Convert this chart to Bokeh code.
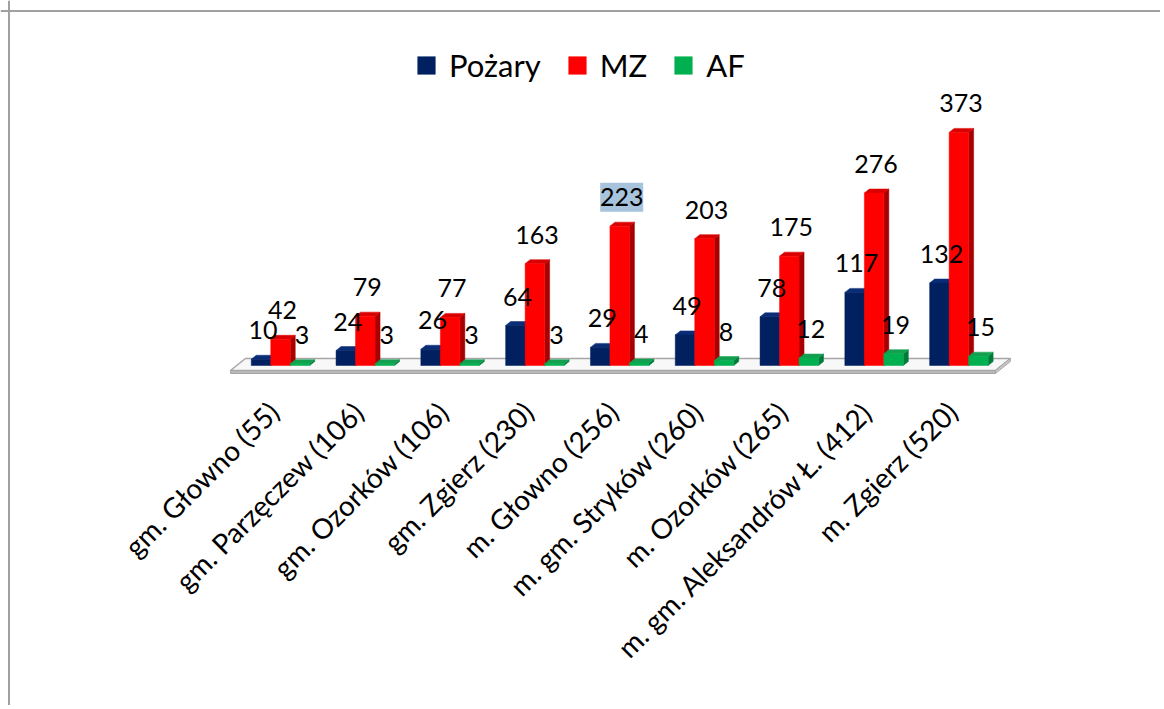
import math
from bokeh.plotting import figure
from bokeh.models import Range1d, Span, Legend, LegendItem
from bokeh.core.properties import value
from bokeh.embed import file_html
from bokeh.resources import INLINE

# ---------------- data ----------------
categories = ["gm. Głowno (55)", "gm. Parzęczew (106)", "gm. Ozorków (106)",
              "gm. Zgierz (230)", "m. Głowno (256)", "m. gm. Stryków (260)",
              "m. Ozorków (265)", "m. gm. Aleksandrów Ł. (412)", "m. Zgierz (520)"]
pozary = [10, 24, 26, 64, 29, 49, 78, 117, 132]
mz = [42, 79, 77, 163, 223, 203, 175, 276, 373]
af = [3, 3, 3, 3, 4, 8, 12, 19, 15]
series_names = ["Pożary", "MZ", "AF"]
highlight = ("m. Głowno (256)", "MZ")

# ---------------- styles ----------------
front_colors = ["#002060", "#FF0000", "#00B050"]
side_colors = ["#00123a", "#a80000", "#007a3a"]
top_colors = ["#0b2d78", "#d80000", "#12a050"]
FONT = "Lato"
TXT = "#000000"

W, H = 1160, 705
PX_X = 84.8      # pixels per category
PX_Y = 0.625     # pixels per value unit
X0 = 280         # pixel of first category centre (from left)
Y0 = 365         # pixel of zero (from top)

p = figure(width=W, height=H,
           x_range=Range1d(-X0 / PX_X, (W - X0) / PX_X),
           y_range=Range1d(-(H - Y0) / PX_Y, Y0 / PX_Y),
           output_backend="svg", toolbar_location=None,
           x_axis_location=None, y_axis_location=None, min_border=0)
p.grid.visible = False
p.outline_line_color = None
p.background_fill_color = "white"
p.border_fill_color = "white"

n = len(categories)
bw = 19.5 / PX_X
dx = 5 / PX_X
dy = 4 / PX_Y

# floor
fl, fr = -0.59, (n - 1) + 0.43
fdx, fdy = 15 / PX_X, 12 / PX_Y
fy = -5 / PX_Y
band = 3 / PX_Y
p.patch([fl, fr, fr + fdx, fl + fdx], [fy, fy, fy + fdy, fy + fdy],
        fill_color="#f8f8f8", line_color="#a6a6a6", line_width=1.5)
p.patch([fl, fr, fr, fl], [fy, fy, fy - band, fy - band],
        fill_color="#b8b8b8", line_color="#a6a6a6", line_width=1)
p.patch([fr, fr + fdx, fr + fdx, fr], [fy - band, fy + fdy - band, fy + fdy, fy],
        fill_color="#c8c8c8", line_color="#a6a6a6", line_width=1)

offsets = [-bw, 0.0, bw]
all_vals = [pozary, mz, af]
front_renderers = []
for k, vals in enumerate(all_vals):
    xs = [i + offsets[k] for i in range(n)]
    sx, sy, tx, ty = [], [], [], []
    for x, v in zip(xs, vals):
        l, r = x - bw / 2, x + bw / 2
        sx.append([r, r + dx, r + dx, r]); sy.append([0, dy, v + dy, v])
        tx.append([l, l + dx, r + dx, r]); ty.append([v, v + dy, v + dy, v])
    p.patches(sx, sy, fill_color=side_colors[k], line_color=side_colors[k], line_width=0.5)
    p.patches(tx, ty, fill_color=top_colors[k], line_color=top_colors[k], line_width=0.5)
    fr_r = p.vbar(x=xs, width=bw, top=vals, bottom=0,
                  fill_color=front_colors[k], line_color=front_colors[k], line_width=0.5)
    front_renderers.append(fr_r)

# highlighted label background
hi_i = categories.index(highlight[0])
hi_k = series_names.index(highlight[1])
p.rect(x=[hi_i + offsets[hi_k] + 2 / PX_X],
       y=[all_vals[hi_k][hi_i] + 29 / PX_Y],
       width=43, height=29, width_units="screen", height_units="screen",
       fill_color="#a7c4dc", line_color=None)

# data labels
for k, vals in enumerate(all_vals):
    xs = [i + offsets[k] + 2 / PX_X for i in range(n)]
    p.text(x=xs, y=vals, text=[str(v) for v in vals], y_offset=-29,
           text_align="center", text_baseline="middle",
           text_font=value(FONT), text_font_size="25px", text_color=TXT)

# category labels
p.text(x=list(range(n)), y=[-66] * n, text=categories, angle=math.pi / 4,
       x_offset=-7, text_align="right", text_baseline="middle",
       text_font=value(FONT), text_font_size="28px", text_color=TXT)

# border (top and left)
p.add_layout(Span(location=p.y_range.end - 10.5 / PX_Y, dimension="width",
                  line_color="#a0a0a0", line_width=2))
p.add_layout(Span(location=p.x_range.start + 8.5 / PX_X, dimension="height",
                  line_color="#a0a0a0", line_width=2))

legend = Legend(items=[LegendItem(label=s, renderers=[r])
                       for s, r in zip(series_names, front_renderers)],
                orientation="horizontal", location=(415, 621),
                glyph_width=22, glyph_height=22, label_standoff=12, spacing=25,
                padding=0, margin=0, border_line_color=None,
                background_fill_alpha=0,
                label_text_font=FONT, label_text_font_size="31px",
                label_text_color=TXT)
p.add_layout(legend)

open("out.html", "w").write(file_html(p, INLINE))
